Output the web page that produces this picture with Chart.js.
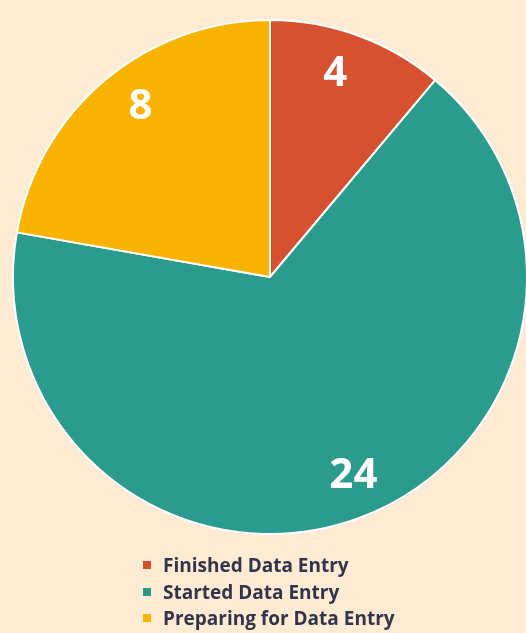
<!DOCTYPE html>
<html>
<head>
<meta charset="utf-8">
<script src="https://cdn.jsdelivr.net/npm/chart.js@4/dist/chart.umd.min.js"></script>
<style>
  html, body { margin: 0; padding: 0; background: #fdebd3; width: 526px; height: 633px; overflow: hidden; }
  #wrap { position: absolute; left: 0; top: 0; width: 540px; height: 554px; }
  #legend { position: absolute; left: 143px; top: 552px; font-family: "Open Sans", sans-serif; font-weight: bold; font-size: 19px; color: #33334a; }
  .legend-item { display: flex; align-items: center; height: 26.5px; }
  .legend-color { width: 8px; height: 8px; margin-right: 12px; }
</style>
</head>
<body>
<div id="wrap"><canvas id="myPieChart" width="540" height="554"></canvas></div>
<div id="legend"></div>
<script>
var labels = ['Finished Data Entry', 'Started Data Entry', 'Preparing for Data Entry'];
var values = [4, 24, 8];
var colors = ['#d6512f', '#2a9b8c', '#f8b200'];

var ctx = document.getElementById('myPieChart').getContext('2d');

// white numbers inside the slices (small angle nudge per slice, like excel's best fit)
var nudge = [-0.04, -0.05, 0.05];
var sliceLabels = {
    id: 'sliceLabels',
    afterDatasetsDraw: function (chart) {
        var c = chart.ctx;
        var arcs = chart.getDatasetMeta(0).data;
        c.save();
        c.fillStyle = '#ffffff';
        c.font = 'bold 42px "Open Sans"';
        c.textAlign = 'center';
        c.textBaseline = 'middle';
        arcs.forEach(function (arc, i) {
            var mid = (arc.startAngle + arc.endAngle) / 2 + nudge[i];
            var r = arc.outerRadius * 0.835;
            c.fillText(values[i], arc.x + Math.cos(mid) * r, arc.y + Math.sin(mid) * r + 1);
        });
        c.restore();
    }
};

var myPieChart = new Chart(ctx, {
    type: 'pie',
    data: {
        labels: labels,
        datasets: [{
            data: values,
            backgroundColor: colors,
            borderColor: '#ffffff',
            borderWidth: 2
        }]
    },
    options: {
        responsive: false,
        animation: false,
        layout: { padding: { top: 19, bottom: 19 } },
        plugins: {
            legend: { display: false },
            tooltip: { enabled: false }
        }
    },
    plugins: [sliceLabels]
});

function updateLegend() {
    var legend = document.getElementById('legend');
    legend.innerHTML = '';
    labels.forEach(function (label, index) {
        var item = document.createElement('div');
        item.classList.add('legend-item');
        var box = document.createElement('div');
        box.classList.add('legend-color');
        box.style.backgroundColor = colors[index];
        var text = document.createElement('div');
        text.innerText = label;
        item.appendChild(box);
        item.appendChild(text);
        legend.appendChild(item);
    });
}

updateLegend();
</script>
</body>
</html>
